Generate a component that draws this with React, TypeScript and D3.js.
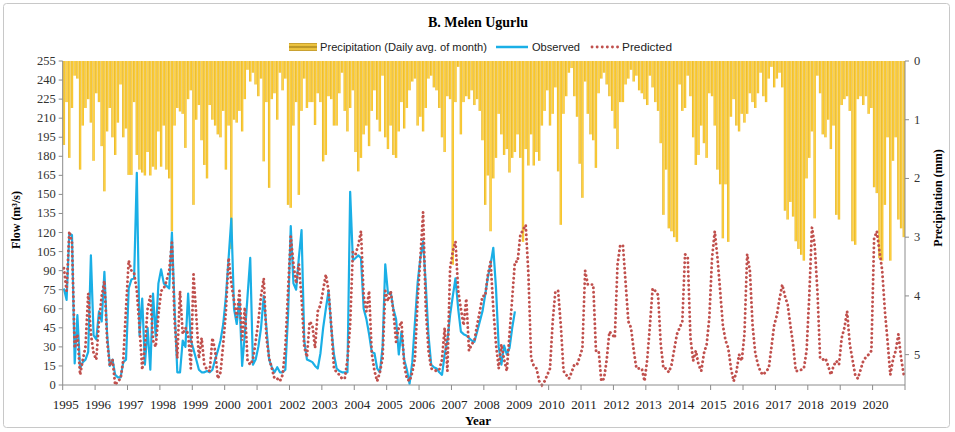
import React from "react";
import * as d3 from "d3";

// monthly values, Jan 1995 .. Dec 2020 (one row per year)
const precipitation = [
  1.43, 0.7, 1.65, 0.8, 0.25, 0.3, 1.85, 1.1, 0.8, 0.65, 1.05, 1.7, // 1995
  0.55, 0.7, 1.45, 2.22, 1.2, 0.8, 1.3, 1.6, 1.05, 0.4, 1.3, 1.15, // 1996
  1.94, 1.94, 0.7, 1.6, 1.85, 1.9, 1.95, 1.55, 1.95, 1.8, 1.85, 1.2, // 1997
  1.8, 1.1, 1.85, 2.0, 2.9, 1.1, 0.8, 0.86, 0.9, 1.48, 0.65, 0.5, // 1998
  2.45, 1.0, 0.75, 1.35, 1.77, 2.0, 0.75, 1.0, 1.1, 1.25, 1.3, 0.85, // 1999
  1.85, 1.1, 3.2, 1.0, 1.05, 0.85, 1.2, 0.65, 0.15, 0.35, 0.2, 0.4, // 2000
  0.6, 0.3, 1.71, 0.7, 2.16, 0.65, 0.55, 1.0, 0.2, 0.5, 0.3, 2.45, // 2001
  2.5, 1.1, 0.7, 2.28, 0.85, 0.3, 0.8, 0.7, 0.7, 1.09, 0.55, 0.7, // 2002
  1.71, 1.6, 0.6, 0.65, 1.1, 1.1, 0.55, 0.2, 0.85, 1.2, 0.8, 0.5, // 2003
  1.55, 1.88, 1.65, 1.25, 1.1, 1.45, 0.85, 0.5, 1.0, 1.2, 0.25, 1.3, // 2004
  1.5, 1.1, 1.6, 1.65, 1.2, 0.7, 1.15, 0.8, 0.5, 0.35, 0.3, 1.1, // 2005
  0.95, 1.2, 0.8, 0.3, 0.25, 0.45, 0.5, 0.8, 1.3, 1.55, 0.6, 0.65, // 2006
  3.47, 0.7, 0.1, 1.25, 0.7, 0.6, 0.65, 0.5, 0.75, 0.65, 0.85, 1.35, // 2007
  2.45, 1.95, 2.9, 2.0, 1.65, 0.9, 1.25, 1.6, 1.5, 1.9, 1.65, 1.55, // 2008
  1.25, 1.65, 3.08, 1.5, 1.78, 1.25, 1.78, 1.55, 1.7, 1.1, 0.85, 0.5, // 2009
  1.1, 0.9, 0.45, 1.88, 2.79, 0.9, 0.6, 0.2, 0.12, 0.6, 0.95, 1.75, // 2010
  2.33, 0.35, 0.9, 1.25, 1.35, 1.82, 0.55, 0.3, 0.2, 0.4, 0.6, 0.85, // 2011
  1.15, 1.5, 0.7, 0.7, 0.4, 0.3, 0.15, 0.35, 0.25, 0.5, 0.55, 0.65, // 2012
  0.75, 0.25, 0.45, 0.7, 0.85, 1.4, 2.62, 1.85, 2.85, 2.9, 3.0, 3.08, // 2013
  0.4, 0.85, 0.8, 0.25, 0.6, 1.3, 1.77, 1.6, 1.1, 1.4, 1.65, 0.55, // 2014
  0.6, 1.1, 1.85, 2.1, 3.02, 2.1, 3.08, 0.95, 0.65, 1.1, 1.2, 0.9, // 2015
  1.05, 0.9, 0.55, 0.7, 0.8, 0.55, 0.2, 0.6, 0.7, 0.3, 0.1, 0.45, // 2016
  0.3, 0.2, 0.45, 2.55, 2.7, 2.4, 2.65, 3.07, 3.2, 3.3, 3.4, 2.0, // 2017
  1.65, 1.2, 2.68, 0.25, 0.55, 1.25, 1.3, 1.0, 1.5, 1.1, 2.62, 2.7, // 2018
  0.75, 0.65, 0.6, 0.85, 3.07, 3.13, 0.65, 0.6, 0.75, 0.6, 0.9, 0.8, // 2019
  2.15, 2.25, 3.36, 3.4, 2.45, 1.3, 3.4, 1.7, 1.3, 2.7, 2.85, 3.0, // 2020
];

// observed flow, Jan 1995 .. Dec 2008
const observed = [
  76, 67, 119, 118, 17, 55, 13, 18, 20, 26, 102, 39, // 1995
  36, 58, 50, 89, 40, 15, 20, 8, 6, 6, 18, 20, // 1996
  76, 83, 84, 167, 39, 68, 16, 45, 12, 72, 38, 80, // 1997
  91, 80, 78, 76, 120, 60, 10, 10, 35, 30, 72, 35, // 1998
  28, 20, 12, 10, 10, 11, 10, 12, 20, 27, 35, 48, // 1999
  70, 100, 131, 60, 48, 67, 15, 40, 70, 100, 16, 20, // 2000
  30, 45, 70, 45, 20, 14, 10, 14, 10, 10, 12, 55, // 2001
  125, 80, 75, 100, 122, 35, 20, 19, 18, 15, 13, 25, // 2002
  45, 60, 74, 45, 24, 13, 11, 10, 10, 10, 152, 98, // 2003
  100, 102, 100, 60, 52, 40, 26, 25, 13, 10, 30, 95, // 2004
  72, 73, 60, 52, 24, 42, 20, 12, 1, 18, 50, 81, // 2005
  100, 113, 79, 39, 16, 14, 13, 10, 8, 24, 35, 55, // 2006
  70, 84, 60, 42, 40, 39, 37, 35, 34, 42, 50, 58, // 2007
  71, 85, 95, 108, 76, 30, 16, 31, 24, 29, 45, 58, // 2008
];

// predicted flow, Jan 1995 .. Dec 2020
const predicted = [
  92, 74, 121, 112, 29, 40, 8, 20, 30, 72, 40, 25, // 1995
  20, 50, 70, 82, 35, 15, 20, 0, 3, 5, 20, 60, // 1996
  98, 90, 88, 74, 45, 12, 30, 60, 70, 35, 30, 55, // 1997
  74, 76, 82, 90, 112, 50, 21, 74, 40, 45, 40, 13, // 1998
  87, 55, 21, 37, 16, 12, 11, 37, 27, 5, 10, 32, // 1999
  58, 100, 80, 66, 53, 74, 35, 61, 19, 16, 20, 34, // 2000
  50, 70, 84, 37, 21, 13, 5, 5, 3, 8, 30, 74, // 2001
  117, 95, 80, 95, 68, 30, 22, 50, 47, 29, 58, 63, // 2002
  75, 87, 74, 47, 13, 10, 8, 5, 5, 20, 47, 105, // 2003
  103, 110, 121, 70, 58, 74, 25, 11, 3, 10, 21, 74, // 2004
  66, 74, 58, 34, 45, 50, 16, 5, 3, 10, 21, 68, // 2005
  100, 136, 60, 27, 13, 12, 11, 12, 20, 45, 11, 92, // 2006
  105, 113, 74, 60, 47, 68, 27, 32, 35, 47, 58, 70, // 2007
  70, 87, 97, 60, 32, 13, 32, 20, 11, 40, 68, 97, // 2008
  97, 118, 122, 126, 87, 21, 15, 13, 3, 0, 3, 8, // 2009
  13, 50, 74, 74, 47, 11, 8, 5, 10, 16, 16, 22, // 2010
  29, 90, 79, 79, 79, 27, 27, 3, 5, 20, 42, 40, // 2011
  37, 95, 110, 110, 80, 50, 45, 27, 13, 13, 13, 3, // 2012
  20, 47, 76, 74, 71, 32, 13, 13, 10, 16, 28, 40, // 2013
  45, 50, 103, 100, 37, 19, 27, 16, 11, 25, 32, 53, // 2014
  100, 121, 100, 74, 47, 35, 29, 13, 3, 10, 24, 19, // 2015
  40, 103, 90, 47, 25, 16, 10, 8, 11, 13, 30, 47, // 2016
  55, 68, 79, 70, 63, 47, 32, 11, 11, 12, 13, 27, // 2017
  70, 124, 110, 74, 21, 20, 21, 15, 8, 15, 19, 16, // 2018
  37, 45, 58, 32, 20, 8, 5, 12, 19, 22, 24, 27, // 2019
  115, 121, 105, 90, 58, 34, 8, 20, 27, 40, 21, 8, // 2020
];

const yearLabels = [
  "1995", "1996", "1997", "1998", "1999", "2000", "2001", "2002", "2003",
  "2004", "2005", "2006", "2007", "2008", "2009", "2010", "2011", "2012",
  "2013", "2014", "2015", "2016", "2017", "2018", "2019", "2020",
];
const flowTicks = [0, 15, 30, 45, 60, 75, 90, 105, 120, 135, 150, 165, 180, 195, 210, 225, 240, 255];
const precipTicks = [0, 1, 2, 3, 4, 5];

const serif = "'Liberation Serif', 'Times New Roman', serif";
const sans = "'Liberation Sans', Arial, sans-serif";

export default function App() {
  const left = 62.7, right = 905, top = 61, bottom = 385;

  const x = d3.scaleBand<number>()
    .domain(d3.range(precipitation.length))
    .range([left, right])
    .paddingInner(0.12);
  const cx = (i: number) => (x(i) as number) + x.bandwidth() / 2;
  const xYear = d3.scaleLinear().domain([1995, 2021]).range([left, right]);
  const yFlow = d3.scaleLinear().domain([0, 255]).range([bottom, top]);
  const yPrec = d3.scaleLinear().domain([0, 5.5]).range([top, bottom - 1]);

  const line = d3.line<number>().x((_, i) => cx(i)).y(d => yFlow(d));

  return (
    <svg width={955} height={432} style={{ position: "absolute", left: 0, top: 0, background: "#fff" }}>
      <defs>
        <linearGradient id="barGrad" x1="0" x2="1" y1="0" y2="0">
          <stop offset="0%" stopColor="#D9A81C" />
          <stop offset="45%" stopColor="#FFD447" />
          <stop offset="100%" stopColor="#F4BC1C" />
        </linearGradient>
        <linearGradient id="legGrad" x1="0" x2="0" y1="0" y2="1">
          <stop offset="0%" stopColor="#B8912A" />
          <stop offset="25%" stopColor="#FFD447" />
          <stop offset="50%" stopColor="#A8841E" />
          <stop offset="75%" stopColor="#FFD447" />
          <stop offset="100%" stopColor="#B8912A" />
        </linearGradient>
      </defs>

      <rect x={3.5} y={3.5} width={946} height={424} fill="none" stroke="#c8c8c8" rx={3} />

      <text x={478} y={27} textAnchor="middle" fontFamily={serif} fontWeight="bold" fontSize={14}>B. Melen Ugurlu</text>

      {/* legend */}
      <g fontFamily={sans} fontSize={11} fill="#222">
        <rect x={289} y={43} width={28} height={8} fill="url(#legGrad)" />
        <text x={320} y={51} textLength={167} lengthAdjust="spacingAndGlyphs">Precipitation (Daily avg. of month)</text>
        <line x1={496} x2={528} y1={47} y2={47} stroke="#1AAFE6" strokeWidth={2.5} />
        <text x={532} y={51} textLength={48} lengthAdjust="spacingAndGlyphs">Observed</text>
        <line x1={592} x2={618} y1={47} y2={47} stroke="#C0504D" strokeWidth={2.8} strokeDasharray="0.1 5" strokeLinecap="round" />
        <text x={622} y={51} textLength={50} lengthAdjust="spacingAndGlyphs">Predicted</text>
      </g>

      {/* precipitation bars hanging from top */}
      <g>
        {precipitation.map((p, i) => (
          <rect key={i} x={x(i)} y={top} width={x.bandwidth()} height={yPrec(p) - top} fill="url(#barGrad)" />
        ))}
      </g>

      {/* flows */}
      <path d={line(observed) ?? ""} fill="none" stroke="#1AAFE6" strokeWidth={2.2} strokeLinejoin="round" />
      <path d={line(predicted) ?? ""} fill="none" stroke="#C0504D" strokeWidth={2.9} strokeDasharray="0.1 4.4" strokeLinecap="round" />

      {/* left axis */}
      <g fontFamily={serif} fontSize={12.5} fill="#333">
        <line x1={left} x2={left} y1={top} y2={bottom} stroke="#8c8c8c" />
        {flowTicks.map(t => (
          <g key={t}>
            <line x1={left - 4} x2={left} y1={yFlow(t)} y2={yFlow(t)} stroke="#8c8c8c" />
            <text x={left - 7} y={yFlow(t) + 4} textAnchor="end">{t}</text>
          </g>
        ))}
      </g>

      {/* right axis */}
      <g fontFamily={serif} fontSize={12.5} fill="#333">
        <line x1={right} x2={right} y1={top} y2={bottom} stroke="#8c8c8c" />
        {precipTicks.map(t => (
          <g key={t}>
            <line x1={right} x2={right + 4} y1={yPrec(t)} y2={yPrec(t)} stroke="#8c8c8c" />
            <text x={right + 9} y={yPrec(t) + 4}>{t}</text>
          </g>
        ))}
      </g>

      {/* bottom axis */}
      <g fontFamily={serif} fontSize={13} fill="#222">
        <line x1={left} x2={right} y1={bottom} y2={bottom} stroke="#8c8c8c" />
        {yearLabels.map((yl, i) => (
          <g key={yl}>
            <line x1={xYear(1995 + i)} x2={xYear(1995 + i)} y1={bottom} y2={bottom + 5} stroke="#8c8c8c" />
            <text x={xYear(1995 + i) + 3} y={bottom + 24} textAnchor="middle">{yl}</text>
          </g>
        ))}
        <line x1={right} x2={right} y1={bottom} y2={bottom + 5} stroke="#8c8c8c" />
      </g>

      <text x={478} y={425} textAnchor="middle" fontFamily={serif} fontWeight="bold" fontSize={13}>Year</text>
      <text transform="translate(20,220) rotate(-90)" textAnchor="middle" fontFamily={serif} fontWeight="bold" fontSize={12}>Flow (m³/s)</text>
      <text transform="translate(942,198) rotate(-90)" textAnchor="middle" fontFamily={serif} fontWeight="bold" fontSize={12}>Precipitation (mm)</text>
    </svg>
  );
}
